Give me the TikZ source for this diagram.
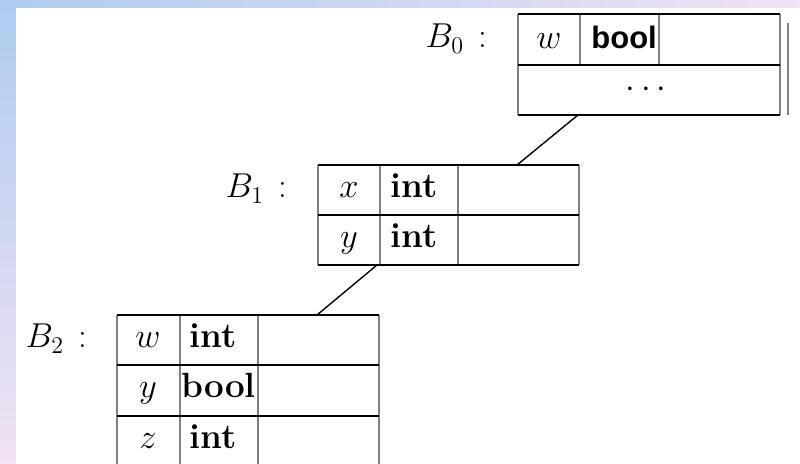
\documentclass[tikz,border=0pt]{standalone}
\usepackage{fontspec}
\newfontfamily\boolfont{Liberation Sans}
\definecolor{bgblue}{RGB}{174,204,239}
\definecolor{bgpink}{RGB}{241,226,244}
\begin{document}
\begin{tikzpicture}[x=0.5pt,y=-0.5pt,
  hrule/.style={black,line width=1pt},
  vrule/.style={black!50,line width=1pt},
  conn/.style={black,line width=0.7pt},
  cell/.style={inner sep=0pt,anchor=base,font=\fontsize{17.5}{21}\selectfont},
  cellw/.style={cell,anchor=base west},
  lbl/.style={cell,anchor=base east},
  sanscell/.style={inner sep=0pt,anchor=base west,font=\fontsize{15.5}{18}\boolfont\bfseries}]
\useasboundingbox (0,0) rectangle (800,464);
% background
\shade[left color=bgblue,right color=bgpink] (0,0) rectangle (800,8);
\shade[top color=bgblue,bottom color=bgpink] (0,0) rectangle (16,464);
\fill[white] (16,8) rectangle (800,464);

% ---------- B0 ----------
\draw[vrule] (518,14) -- (518,115);
\draw[vrule] (780,14) -- (780,115);
\draw[vrule] (580,14) -- (580,65);
\draw[vrule] (659,14) -- (659,65);
\draw[vrule] (788,23) -- (788,115);
\foreach \y in {14,65,115} \draw[hrule] (518,\y) -- (780,\y);
\node[lbl] (b0lbl) at (488,48) {$B_0$\hspace{0.42em}:};
\node[cell] (b0w) at (549,49) {$w$};
\node[sanscell] (b0bool) at (591,49) {bool};
\node[inner sep=0pt,font=\fontsize{17.5}{21}\selectfont] (b0dots) at (646,90) {$\cdots$};

% ---------- B1 ----------
\draw[vrule] (318,165) -- (318,265);
\draw[vrule] (380,165) -- (380,265);
\draw[vrule] (458,165) -- (458,265);
\draw[vrule] (579,165) -- (579,265);
\foreach \y in {165,215,265} \draw[hrule] (318,\y) -- (579,\y);
\node[lbl] (b1lbl) at (288,198) {$B_1$\hspace{0.42em}:};
\node[cell] (b1x) at (349,198) {$x$};
\node[cellw] (b1xt) at (390,198) {\textbf{int}};
\node[cell] (b1y) at (349,248) {$y$};
\node[cellw] (b1yt) at (390,248) {\textbf{int}};

% ---------- B2 ----------
\draw[vrule] (117,315) -- (117,464);
\draw[vrule] (180,315) -- (180,464);
\draw[vrule] (258,315) -- (258,464);
\draw[vrule] (379,315) -- (379,464);
\foreach \y in {315,365,416} \draw[hrule] (117,\y) -- (379,\y);
\node[lbl] (b2lbl) at (88,348) {$B_2$\hspace{0.42em}:};
\node[cell] (b2w) at (148,348) {$w$};
\node[cellw] (b2wt) at (189,348) {\textbf{int}};
\node[cell] (b2y) at (148,398) {$y$};
\node[cellw] (b2yt) at (181,398) {\textbf{bool}};
\node[cell] (b2z) at (148,449) {$z$};
\node[cellw] (b2zt) at (189,449) {\textbf{int}};

% ---------- connectors ----------
\coordinate (b0bot) at (578,115);
\coordinate (b1top) at (517,165);
\coordinate (b1bot) at (377,265);
\coordinate (b2top) at (317,315);
\draw[conn] (b0bot) -- (b1top);
\draw[conn] (b1bot) -- (b2top);
\end{tikzpicture}
\end{document}
